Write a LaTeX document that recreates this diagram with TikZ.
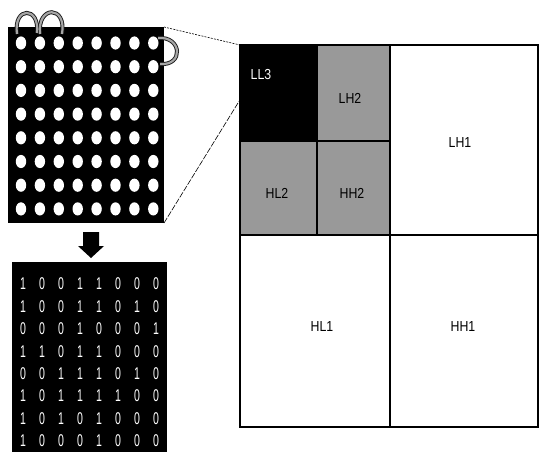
\documentclass[tikz,border=0pt]{standalone}
\usepackage{fontspec}
\setmainfont{Liberation Sans}
\usetikzlibrary{calc}
\begin{document}
\begin{tikzpicture}[x=1pt,y=-1pt,
  panel/.style={draw=black,line width=1.8pt,inner sep=0pt,outer sep=0pt,anchor=north west},
  lbl/.style={font=\fontsize{14.5}{14.5}\selectfont,inner sep=0pt,xscale=0.85},
  bit/.style={font=\fontsize{17}{17}\selectfont,text=white,inner sep=0pt,xscale=0.62},
  wire/.style={draw=black!90,line width=4pt},
  wirein/.style={draw=black!35,line width=2.2pt},
  zoomline/.style={draw=black,line width=0.6pt,dash pattern=on 2pt off 1.2pt}]
\useasboundingbox (0,0) rectangle (548,460);

% LED dot matrix
\node[fill=black,minimum width=156pt,minimum height=196pt,inner sep=0pt,outer sep=0pt,anchor=north west] (led) at (8,27) {};
\foreach \c in {0,...,7}
  \foreach \r in {0,...,7}
    \fill[white] (21+\c*18.9,43+\r*23.7) ellipse [x radius=5.2pt,y radius=6.6pt];

% wires looping over the matrix
\foreach \sty in {wire,wirein}{
  \draw[\sty] (17,34) .. controls (13,6) and (40,6) .. (37,33);
  \draw[\sty] (40,34) .. controls (37,5) and (67,5) .. (62,34);
  \draw[\sty] (158,38) .. controls (182,36) and (184,66) .. (160,64);
}

% down arrow
\fill[black] (83,232) -- (99,232) -- (99,246) -- (104,246) -- (91,258) -- (78,246) -- (83,246) -- cycle;

% binary matrix
\node[fill=black,minimum width=155pt,minimum height=190pt,inner sep=0pt,outer sep=0pt,anchor=north west] (bin) at (12,262) {};
\foreach \row [count=\r from 0] in {
  {1,0,0,1,1,0,0,0},
  {1,0,0,1,1,0,1,0},
  {0,0,0,1,0,0,0,1},
  {1,1,0,1,1,0,0,0},
  {0,0,1,1,1,0,1,0},
  {1,0,1,1,1,1,0,0},
  {1,0,1,0,1,0,0,0},
  {1,0,0,0,1,0,0,0}}{
  \foreach \b [count=\c from 0] in \row
    \node[bit] at (23+\c*19,284+\r*22.4) {\b};
}

% wavelet sub-band layout
\node[panel,fill=black,minimum width=77pt,minimum height=96pt] (ll3) at (240,45) {};
\node[panel,fill=black!40,minimum width=73pt,minimum height=96pt] (lh2) at (317,45) {};
\node[panel,fill=black!40,minimum width=77pt,minimum height=94pt] (hl2) at (240,141) {};
\node[panel,fill=black!40,minimum width=73pt,minimum height=94pt] (hh2) at (317,141) {};
\node[panel,fill=white,minimum width=148pt,minimum height=190pt] (lh1) at (390,45) {};
\node[panel,fill=white,minimum width=150pt,minimum height=192pt] (hl1) at (240,235) {};
\node[panel,fill=white,minimum width=148pt,minimum height=192pt] (hh1) at (390,235) {};

\node[lbl,text=white] at (261,75) {LL3};
\node[lbl] at (350,98) {LH2};
\node[lbl] at (277,193) {HL2};
\node[lbl] at (352,193) {HH2};
\node[lbl] at (460,143) {LH1};
\node[lbl] at (322,327) {HL1};
\node[lbl] at (463,327) {HH1};

% zoom guides from the matrix to the layout
\coordinate (ll3w) at ($(ll3.north west)!0.57!(ll3.south west)$);
\draw[zoomline] (led.north east) -- (ll3.north west);
\draw[draw=black,line width=0.6pt,dash pattern=on 6pt off 1.5pt] (led.south east) -- (ll3w);
\end{tikzpicture}
\end{document}
